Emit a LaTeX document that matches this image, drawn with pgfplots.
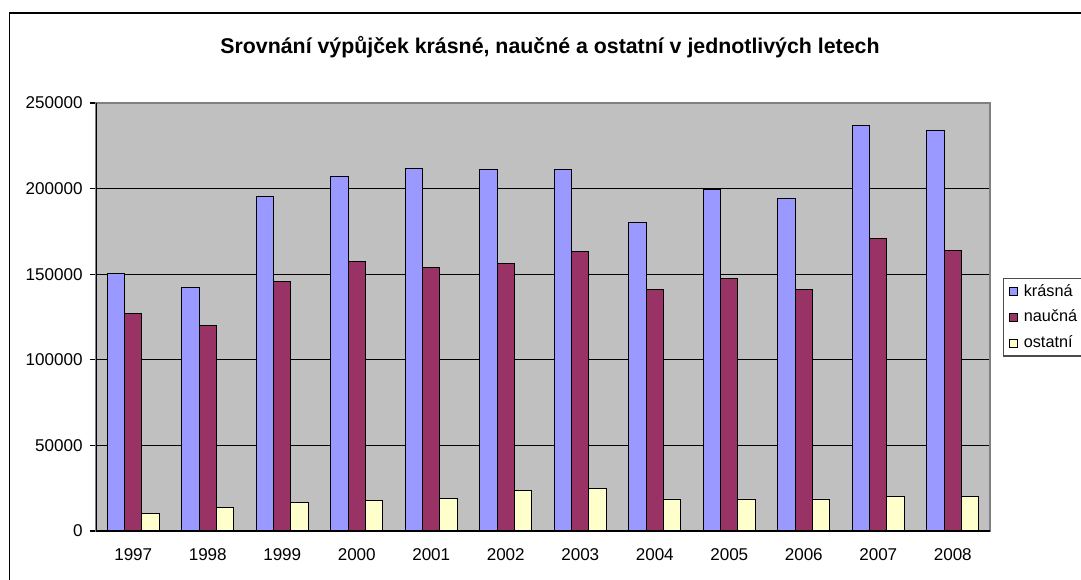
\documentclass[border=0pt]{standalone}
\usepackage{fontspec}
\setmainfont{Liberation Sans}
\usepackage{pgfplots}
\usepackage{pgfplotstable}
\pgfplotsset{compat=1.18}
\definecolor{krasna}{HTML}{9999FF}
\definecolor{naucna}{HTML}{993366}
\definecolor{ostatni}{HTML}{FFFFCC}
\definecolor{plotbg}{HTML}{C0C0C0}
\pgfplotstableread{
x krasna naucna ostatni
0 150700 127300 10100
1 142100 120100 14000
2 195300 146000 16400
3 207000 157700 18100
4 211600 154000 18900
5 210900 156200 23600
6 210900 163200 24900
7 180300 141200 18700
8 199400 147600 18700
9 194500 140800 18700
10 237000 171100 20200
11 234200 163900 20200
}\data
\begin{document}
\begin{tikzpicture}
\useasboundingbox (0,0) rectangle (810.75pt,434.25pt);
\clip (0,0) rectangle (810.75pt,434.25pt);
\draw[line width=0.8pt] (7.1pt,-20pt) rectangle (900pt,424.5pt);
\node[font=\fontsize{16}{19}\selectfont\bfseries] at (412.5pt,399pt) {Srovnání výpůjček krásné, naučné a ostatní v jednotlivých letech};
\begin{axis}[
  at={(72pt,36pt)}, anchor=south west,
  width=670.5pt, height=321pt, scale only axis,
  xmin=-0.5, xmax=11.5, ymin=0, ymax=250000,
  ybar=0pt, bar width=13pt,
  axis background/.style={fill=plotbg},
  axis line style={draw=black!50, line width=0.8pt},
  xtick={0,...,11},
  xticklabels={1997,1998,1999,2000,2001,2002,2003,2004,2005,2006,2007,2008},
  xtick style={draw=none},
  extra x ticks={-0.5,0.5,...,11.5},
  extra x tick style={xticklabel={}, tick style={draw=black, line width=0.8pt}, major tick length=4.5pt},
  ytick={0,50000,...,250000},
  ytick style={draw=black, line width=0.8pt},
  tick align=outside, tick pos=left,
  major tick length=4.5pt,
  ymajorgrids, grid style={draw=black, line width=0.7pt},
  scaled y ticks=false,
  yticklabel={\pgfmathprintnumber[fixed, precision=0, 1000 sep={}, assume math mode=true]{\tick}},
  yticklabel style={font=\fontsize{12.8}{15}\selectfont, xshift=-2pt},
  xticklabel style={font=\fontsize{12.8}{15}\selectfont, yshift=-5pt},
  legend style={at={(1,0.5)}, anchor=west, xshift=9.75pt, draw=black!70, line width=0.8pt, fill=white,
    font=\fontsize{12.2}{14.5}\selectfont, row sep=5pt, inner sep=2.5pt},
  legend cell align=left,
  legend image code/.code={\path (-1.5pt,0pt) (8.5pt,0pt); \draw[#1, line width=0.5pt] (0pt,-3pt) rectangle (6pt,3pt);},
]
\addplot[fill=krasna, draw=black, line width=0.7pt] table[x=x, y=krasna] {\data};
\addplot[fill=naucna, draw=black, line width=0.7pt] table[x=x, y=naucna] {\data};
\addplot[fill=ostatni, draw=black, line width=0.7pt] table[x=x, y=ostatni] {\data};
\legend{krásná, naučná, ostatní}
\draw[black, line width=0.8pt] (rel axis cs:0,0) -- (rel axis cs:0,1);
\draw[black, line width=0.8pt] (rel axis cs:0,0) -- (rel axis cs:1,0);
\end{axis}
\end{tikzpicture}
\end{document}
